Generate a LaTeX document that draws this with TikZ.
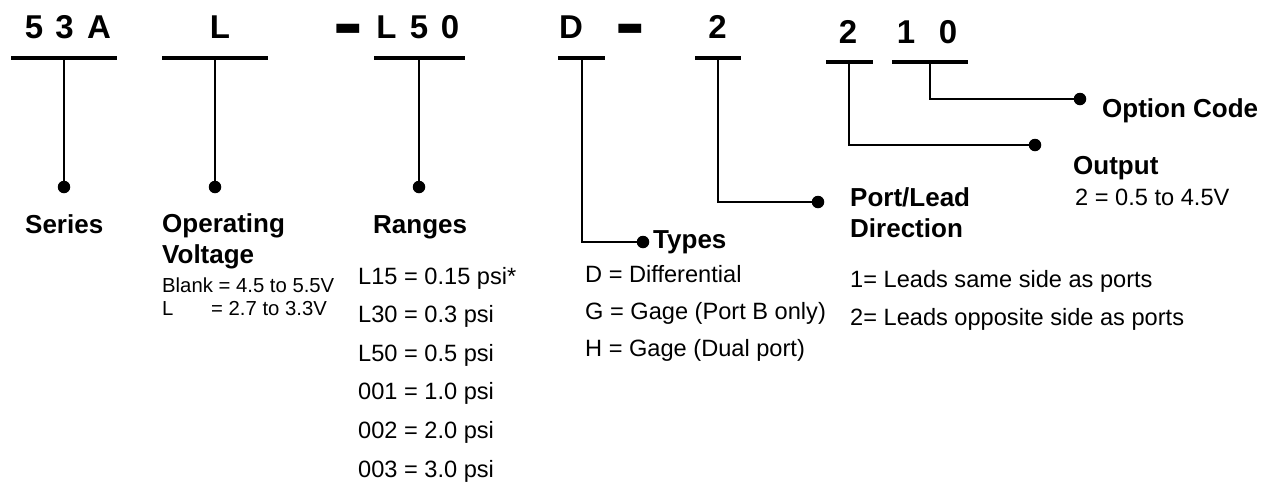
\documentclass[tikz,border=0pt]{standalone}
\usepackage{fontspec}
\setmainfont{Liberation Sans}
\usetikzlibrary{positioning}

\tikzset{
  code/.style={font=\fontsize{33}{36}\selectfont\bfseries, inner sep=0pt, anchor=base},
  bigdash/.style={code, font=\fontsize{46}{50}\selectfont\bfseries},
  lbl/.style={font=\fontsize{26}{31}\selectfont\bfseries, inner sep=0pt, anchor=base west},
  val/.style={font=\fontsize{23.6}{28}\selectfont, inner sep=0pt, anchor=base west},
  sml/.style={font=\fontsize{20.3}{24}\selectfont, inner sep=0pt, anchor=base west},
  blob/.style={circle, fill=black, inner sep=0pt, minimum size=12.5pt},
  ln/.style={line width=2pt},
  ul/.style={line width=4.8pt}
}

\begin{document}
\begin{tikzpicture}[x=1pt,y=-1pt]
			\useasboundingbox (0,0) rectangle (1275,483);
			
			\foreach \c/\x [count=\i] in {5/34,3/64.5,A/99,L/220,L/386.5,5/419,0/450,D/571,2/717.5} {
				\node[code] (c\i) at (\x,38) {\c};
			}
			\foreach \c/\x [count=\i] in {2/848,1/906,0/948} {
				\node[code] (o\i) at (\x,43) {\c};
			}
			\node[bigdash] (dash1) at (348,53) {\scalebox{1}[2]{–}};
			\node[bigdash] (dash2) at (630,53) {\scalebox{1}[2]{–}};
			
			\coordinate (t1) at (64,58);
			\coordinate (t2) at (215,58);
			\coordinate (t3) at (419,58);
			\coordinate (t4) at (582,58);
			\coordinate (t5) at (718,58);
			\coordinate (t6) at (849,62);
			\coordinate (t7) at (930,62);
			
			\node[blob] (b1) at (64,187) {};
			\node[blob] (b2) at (215,187) {};
			\node[blob] (b3) at (419,187) {};
			\node[blob] (b4) at (643,242) {};
			\node[blob] (b5) at (818,202) {};
			\node[blob] (b6) at (1035,145) {};
			\node[blob] (b7) at (1080,99) {};
			
			\foreach \i in {1,2,3} { \draw[ln] (t\i) -- (b\i); }
			\foreach \i in {4,...,7} { \draw[ln] (t\i) |- (b\i); }
			
			\foreach \a/\b/\y in {11/117/58,162/268/58,374/465/58,558/605/58,695/741/58,826/873/62,892/968/62} {
				\draw[ul] (\a,\y) -- (\b,\y);
			}
			
			\node[lbl] (series) at (25,233) {Series};
			
			\node[lbl] (oper) at (162,232) {Operating};
			\node[lbl] (volt) at (162,263) {Voltage};
			\node[sml] (blank) at (162,292) {Blank = 4.5 to 5.5V};
			\node[sml] (lowl) at (162,315) {L};
			\node[sml] (lowv) at (211,315) {= 2.7 to 3.3V};
			
			\node[lbl] (ranges) at (373,233) {Ranges};
			\foreach \t [count=\i] in {L15 = 0.15 psi*,L30 = 0.3 psi,L50 = 0.5 psi,001 = 1.0 psi,002 = 2.0 psi,003 = 3.0 psi} {
				\node[val] (rng\i) at (358,{284+38.6*(\i-1)}) {\t};
			}
			
			\node[lbl] (types) at (653,248) {Types};
			\foreach \t [count=\i] in {D = Differential,G = Gage (Port B only),H = Gage (Dual port)} {
				\node[val] (typ\i) at (585,{282+37*(\i-1)}) {\t};
			}
			
			\node[lbl] (port) at (850,206) {Port/Lead};
			\node[lbl] (dir) at (850,237) {Direction};
			\node[val] (lead1) at (850,287) {1= Leads same side as ports};
			\node[val] (lead2) at (850,325) {2= Leads opposite side as ports};
			
			\node[lbl] (output) at (1073,174) {Output};
			\node[val] (outv) at (1075,205) {2 = 0.5 to 4.5V};
			
			\node[lbl] (option) at (1102,117) {Option Code};
		\end{tikzpicture}
\end{document}
